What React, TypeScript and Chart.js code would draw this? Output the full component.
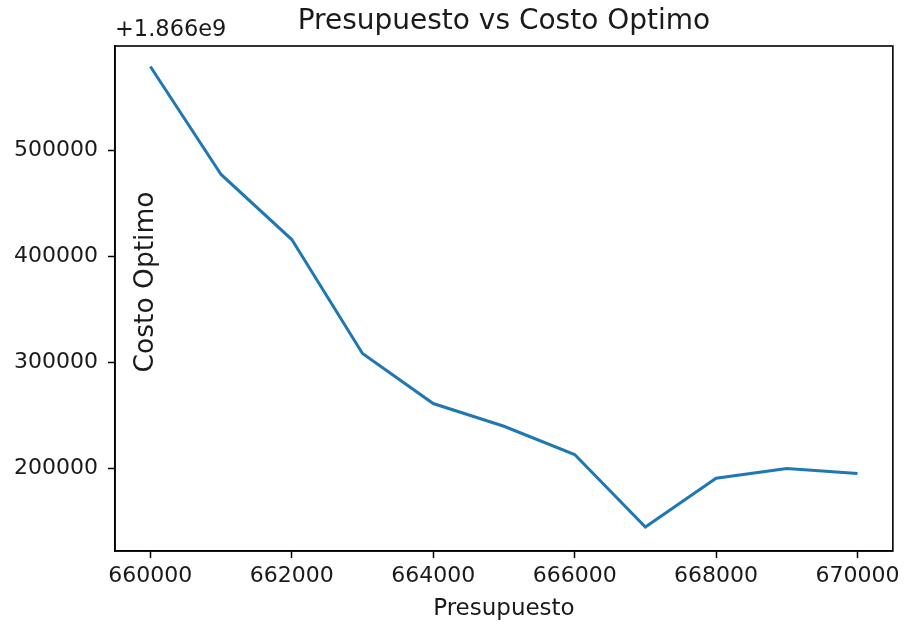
import React, { useEffect, useRef } from "react";
import { Chart, registerables } from "chart.js";

Chart.register(...registerables);

const presupuesto = [660000, 661000, 662000, 663000, 664000, 665000, 666000, 667000, 668000, 669000, 670000];
const costoOptimo = [579000, 477100, 415700, 308200, 261000, 239600, 212900, 144500, 190600, 199700, 195000];
const xTicks = [660000, 662000, 664000, 666000, 668000, 670000];
const yTicks = [200000, 300000, 400000, 500000];
const titleText = "Presupuesto vs Costo Optimo";
const xLabel = "Presupuesto";
const yLabel = "Costo Optimo";
const offsetText = "+1.866e9";

const FONT = "'DejaVu Sans', sans-serif";
const TEXT = "#1a1a1a";

export default function App() {
  const ref = useRef<HTMLCanvasElement | null>(null);
  useEffect(() => {
    document.body.style.margin = "0";
    const canvas = ref.current!;
    const decor = {
      id: "decor",
      afterDraw(chart: any) {
        const { ctx, chartArea: a } = chart;
        ctx.save();
        ctx.strokeStyle = "#000";
        ctx.lineWidth = 1.6;
        ctx.strokeRect(a.left, a.top, a.right - a.left, a.bottom - a.top);
        ctx.fillStyle = TEXT;
        ctx.textAlign = "center";
        ctx.textBaseline = "middle";
        ctx.font = `28px ${FONT}`;
        ctx.fillText(titleText, (a.left + a.right) / 2, 22);
        ctx.font = `23px ${FONT}`;
        ctx.fillText(xLabel, (a.left + a.right) / 2, 609);
        ctx.font = `22.5px ${FONT}`;
        ctx.textAlign = "left";
        ctx.fillText(offsetText, a.left, 30);
        ctx.font = `26.5px ${FONT}`;
        ctx.translate(146, 282);
        ctx.rotate(-Math.PI / 2);
        ctx.textAlign = "center";
        ctx.fillText(yLabel, 0, 0);
        ctx.restore();
      },
    };
    const chart = new Chart(canvas, {
      type: "line",
      data: {
        datasets: [
          {
            data: presupuesto.map((x, i) => ({ x, y: costoOptimo[i] })),
            borderColor: "#1f77b4",
            borderWidth: 3,
            pointRadius: 0,
            tension: 0,
            fill: false,
          },
        ],
      },
      options: {
        animation: false,
        responsive: false,
        maintainAspectRatio: false,
        layout: { padding: { top: 46, right: 11, left: 0, bottom: 0 } },
        plugins: { legend: { display: false }, tooltip: { enabled: false }, title: { display: false } },
        scales: {
          x: {
            type: "linear",
            min: 659500,
            max: 670500,
            afterBuildTicks: (s: any) => {
              s.ticks = xTicks.map((v) => ({ value: v }));
            },
            afterFit: (s: any) => {
              s.height = 77;
            },
            ticks: {
              autoSkip: false,
              maxRotation: 0,
              padding: 5,
              color: TEXT,
              font: { family: FONT, size: 22 },
              callback: (v: any) => String(v),
            },
            grid: { drawOnChartArea: false, drawTicks: true, tickLength: 7, tickColor: "#000", tickWidth: 1.5 },
            border: { display: true, color: "#000", width: 1.6 },
          },
          y: {
            type: "linear",
            min: 121900,
            max: 598300,
            afterBuildTicks: (s: any) => {
              s.ticks = yTicks.map((v) => ({ value: v }));
            },
            afterFit: (s: any) => {
              s.width = 115;
            },
            ticks: {
              autoSkip: false,
              padding: 10,
              color: TEXT,
              font: { family: FONT, size: 22 },
              callback: (v: any) => String(v),
            },
            grid: { drawOnChartArea: false, drawTicks: true, tickLength: 7, tickColor: "#000", tickWidth: 1.5 },
            border: { display: true, color: "#000", width: 1.6 },
          },
        },
      },
      plugins: [decor],
    } as any);
    return () => chart.destroy();
  }, []);
  return <canvas ref={ref} width={905} height={628} style={{ display: "block" }} />;
}
